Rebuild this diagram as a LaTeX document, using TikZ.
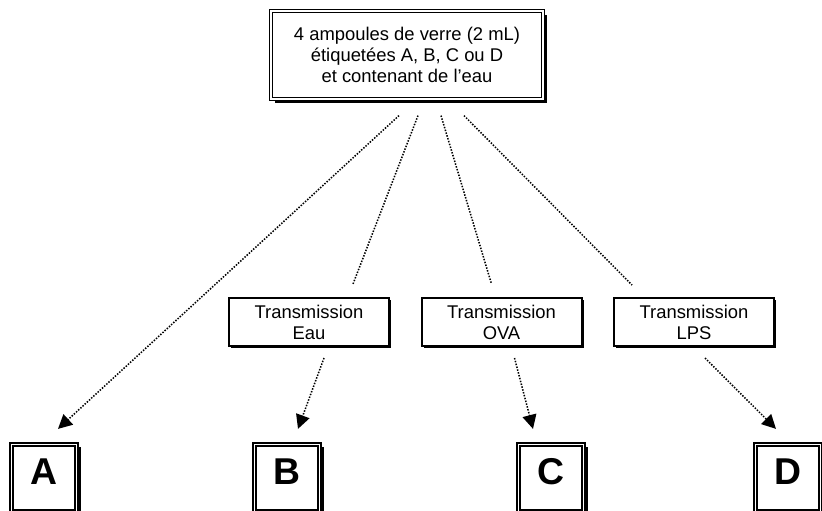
\documentclass[tikz,border=0pt]{standalone}
\usepackage{fontspec}
\setmainfont{Liberation Sans}
\usetikzlibrary{%
  arrows.meta,%
  calc,% wg. ($...$)
  shadows%
}
\begin{document}
\begin{tikzpicture}
    [   x=0.75pt, y=-0.75pt
    ,   >={Triangle[length=10.5pt,width=10.5pt]}
    ,   link/.style=
            {   ->
            ,   line width=1.15pt
            ,   dash pattern=on 1.1pt off 1.1pt
            }
    ,   ampoules/.style=
            {   % The shape:
                rectangle
            ,   minimum width=204pt
            ,   minimum height=66pt
            ,   draw
            ,   double
            ,   line width=0.9pt
            ,   double distance=1.2pt
            ,   fill=white
            ,   drop shadow={shadow xshift=3pt,shadow yshift=-3pt,opacity=1,fill=black}
            ,   % The rest
                align=center
            ,   font=\fontsize{13.8}{16}\selectfont
            }
    ,   transmission/.style=
            {   rectangle
            ,   minimum width=120pt
            ,   minimum height=36pt
            ,   draw
            ,   line width=1.5pt
            ,   fill=white
            ,   drop shadow={shadow xshift=1.6pt,shadow yshift=-1.6pt,opacity=1,fill=black}
            ,   align=center
            ,   font=\fontsize{13.8}{15.8}\selectfont
            }
    ,   ampoule/.style=
            {   rectangle
            ,   minimum width=49pt
            ,   minimum height=50pt
            ,   draw
            ,   double
            ,   line width=1.2pt
            ,   double distance=1pt
            ,   fill=white
            ,   drop shadow={shadow xshift=3pt,shadow yshift=-2pt,opacity=1,fill=black}
            ,   text depth=9.5pt
            ,   font=\fontsize{28}{30}\selectfont\bfseries
            }
    ]
    \useasboundingbox (0,0) rectangle (822,511);

    \node[ampoules](top) at (407,55)
        {4 ampoules de verre (2 mL)\\étiquetées A, B, C ou D\\et contenant de l’eau};

    \node[transmission](eau) at (309,322) {Transmission\\Eau};
    \node[transmission](ova) at (501.5,322) {Transmission\\OVA};
    \node[transmission](lps) at (694,322) {Transmission\\LPS};

    \node[ampoule](a) at (44,478) {A};
    \node[ampoule](b) at (287,478) {B};
    \node[ampoule](c) at (551,478) {C};
    \node[ampoule](d) at (788,478) {D};

    \draw[link] ($(top.south)+(-8,16)$) -- ($(a.north)+(14,-15)$);
    \draw[link,-] ($(top.south)+(11,16)$) -- ($(eau.north)+(44,-13)$);
    \draw[link,-] ($(top.south)+(34,16)$) -- ($(ova.north)+(-10,-13)$);
    \draw[link,-] ($(top.south)+(57,16)$) -- ($(lps.north)+(-62,-12)$);
    \draw[link] ($(eau.south)+(15,11)$) -- ($(b.north)+(11,-15)$);
    \draw[link] ($(ova.south)+(13,11)$) -- ($(c.north)+(-18,-15)$);
    \draw[link] ($(lps.south)+(11,11)$) -- ($(d.north)+(-12,-15)$);
\end{tikzpicture}
\end{document}
